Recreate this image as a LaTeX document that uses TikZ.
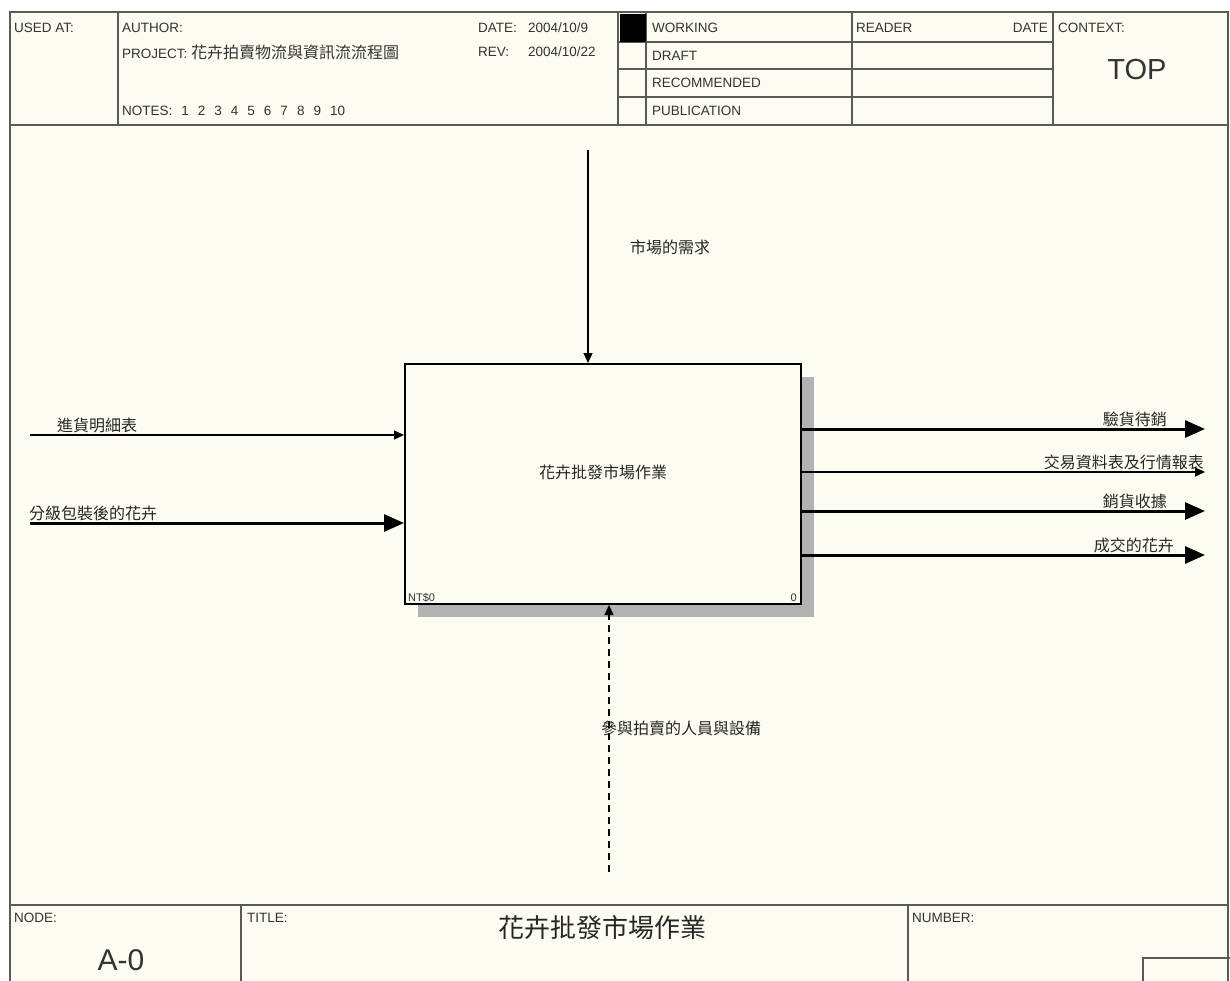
\documentclass[tikz,border=0pt]{standalone}
\usepackage{fontspec}
\setmainfont{Liberation Sans}
\newfontfamily\cjk{Noto Sans CJK TC}
\usetikzlibrary{arrows.meta,positioning,shadows}
\definecolor{paper}{RGB}{253,252,241}
\definecolor{rulegray}{RGB}{90,90,90}
\newcommand{\nsp}{\hspace{9pt}}

\begin{document}
\begin{tikzpicture}[x=1pt,y=-1pt,
  frame/.style={draw=rulegray,line width=1.6pt},
  hdr/.style={font=\fontsize{13.5}{15}\selectfont,text=black!80,anchor=west,inner sep=0pt},
  lbl/.style={font=\cjk\fontsize{16}{18}\selectfont,text=black!85,inner sep=1pt},
  actbox/.style={draw,line width=2pt,fill=paper,minimum width=396pt,minimum height=240pt,
    drop shadow={shadow xshift=13pt,shadow yshift=-13pt,fill=black!30,opacity=1}},
  flow/.style={line width=1.2pt,-{Triangle[length=10pt,width=9pt]}},
  bigflow/.style={line width=3pt,-{Triangle[length=20pt,width=17pt]}}]
\useasboundingbox (0,0) rectangle (1230,981);
\clip (0,0) rectangle (1230,981);
\fill[white] (0,0) rectangle (1230,981);
% sheet frame
\draw[frame,fill=paper] (10,12) rectangle (1228,1000);
\draw[frame] (10,125) -- (1228,125);
\draw[frame] (10,905) -- (1228,905);
\foreach \x in {118,618,646,852,1053} \draw[frame] (\x,12) -- (\x,125);
\foreach \y in {42,69,97} \draw[frame] (618,\y) -- (1053,\y);
\fill (620,14) rectangle (646,42);
\draw[frame] (241,905) -- (241,1000);
\draw[frame] (908,905) -- (908,1000);
\draw[frame] (1143,958) rectangle (1240,1000);
% header texts
\node[hdr] (usedat) at (14,28) {USED AT:};
\node[hdr] (author) at (122,28) {AUTHOR:};
\node[hdr] (project) at (122,52) {PROJECT:\ {\cjk\fontsize{16}{18}\selectfont 花卉拍賣物流與資訊流流程圖}};
\node[hdr] (notes) at (122,111) {NOTES:\nsp 1\nsp 2\nsp 3\nsp 4\nsp 5\nsp 6\nsp 7\nsp 8\nsp 9\nsp 10};
\node[hdr] (date) at (478,28) {\makebox[50pt][l]{DATE:}2004/10/9};
\node[hdr] (rev) at (478,52) {\makebox[50pt][l]{REV:}2004/10/22};
\foreach \t/\y in {WORKING/28,DRAFT/56,RECOMMENDED/83,PUBLICATION/111}
  \node[hdr] (st-\t) at (652,\y) {\t};
\node[hdr] (reader) at (856,28) {READER};
\node[hdr,anchor=east] (rdate) at (1048,28) {DATE};
\node[hdr] (context) at (1058,28) {CONTEXT:};
\node[hdr,anchor=center,font=\fontsize{29}{31}\selectfont] (top) at (1137,70) {TOP};
% footer texts
\node[hdr] (nodelbl) at (14,918) {NODE:};
\node[hdr] (titlelbl) at (247,918) {TITLE:};
\node[hdr] (numberlbl) at (912,918) {NUMBER:};
\node[hdr,anchor=center,font=\fontsize{30}{32}\selectfont] (nodeno) at (121,960) {A-0};
\node[lbl,font=\cjk\fontsize{26}{28}\selectfont] (title) at (602,928) {花卉批發市場作業};
% activity box
\node[actbox] (act) at (603,484) {};
\node[lbl] (acttxt) at (603,472) {花卉批發市場作業};
\node[hdr,anchor=south west,font=\fontsize{11}{12}\selectfont] (cost) at ([xshift=4pt,yshift=3pt]act.south west) {NT\$0};
\node[hdr,anchor=south east,font=\fontsize{11}{12}\selectfont] (boxno) at ([xshift=-5pt,yshift=3pt]act.south east) {0};
% control and mechanism
\coordinate (ctl) at (588,150);
\draw[flow] (ctl) -- (ctl |- act.north);
\node[lbl] (ctllbl) at (670,247) {市場的需求};
\coordinate (mech) at (609,872);
\draw[flow,dash pattern=on 7pt off 5pt] (mech) -- (mech |- act.south);
\node[lbl,anchor=west] (mechlbl) at (600,728) {參與拍賣的人員與設備};
% inputs
\coordinate (in1) at (30,435);
\draw[flow] (in1) -- (in1 -| act.west);
\node[lbl,anchor=south west] (in1lbl) at (56,434) {進貨明細表};
\coordinate (in2) at (30,523);
\draw[bigflow] (in2) -- (in2 -| act.west);
\node[lbl,anchor=south west] (in2lbl) at (28,522) {分級包裝後的花卉};
% outputs
\foreach \y/\t/\s/\r in {429/驗貨待銷/bigflow/1168,472/交易資料表及行情報表/flow/1205,511/銷貨收據/bigflow/1168,555/成交的花卉/bigflow/1175}{
  \coordinate (out\y) at (1205,\y);
  \draw[\s] (out\y -| act.east) -- (out\y);
  \node[lbl,anchor=south east] (outlbl\y) at (\r,\y-1) {\t};
}
\end{tikzpicture}
\end{document}
